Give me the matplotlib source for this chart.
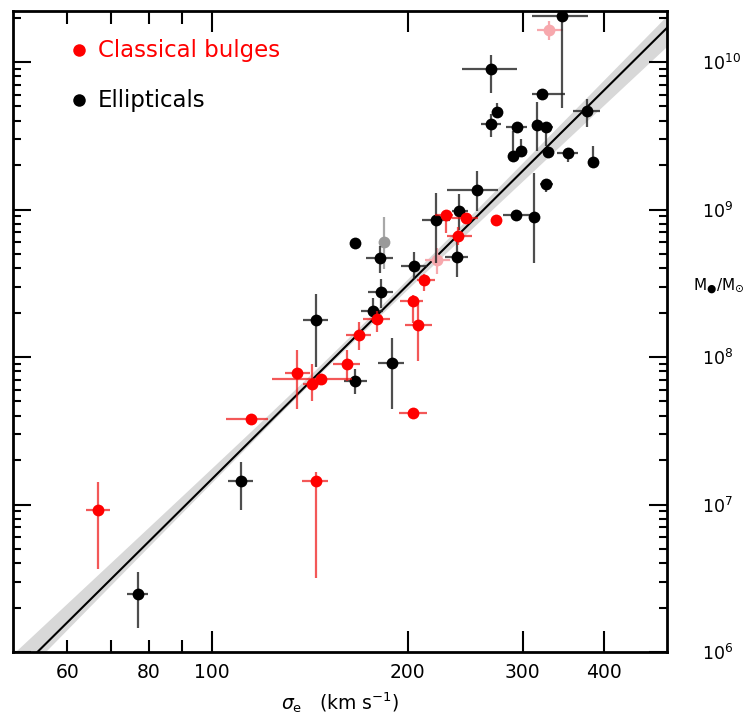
import numpy as np
import matplotlib
matplotlib.use("Agg")
import matplotlib.pyplot as plt
from matplotlib.ticker import FixedLocator, NullFormatter, LogLocator, FuncFormatter

# ---------------- data (sigma in km/s, log10 M in solar masses) ----------------
# Ellipticals
ell_sigma    = [344.8, 268.0, 321.6, 274.3, 268.0, 294.4, 315.3, 325.9, 289.7, 298.0,
                327.8, 351.8, 385.2, 376.3, 325.5, 312.3, 293.1, 255.3, 239.9, 220.8,
                237.7, 204.5, 181.2, 165.9, 181.6, 176.6, 144.3, 165.9, 188.8, 110.7, 76.9]
ell_sigma_lo = [310.0, 241.9, 309.8, 274.3, 258.6, 282.9, 312.0, 319.0, 289.7, 298.0,
                323.0, 338.4, 385.2, 358.5, 319.0, 309.0, 279.9, 229.4, 233.5, 210.0,
                227.9, 195.0, 172.5, 165.9, 173.7, 169.2, 137.8, 159.5, 180.1, 105.7, 74.0]
ell_sigma_hi = [378.1, 294.1, 348.5, 274.3, 277.7, 304.7, 322.0, 334.6, 289.7, 298.0,
                332.0, 365.3, 385.2, 394.5, 334.0, 316.0, 309.8, 275.3, 247.6, 232.1,
                247.6, 213.7, 189.5, 165.9, 189.7, 182.9, 150.9, 172.9, 197.2, 115.5, 79.7]
ell_logm     = [10.31, 9.95, 9.78, 9.66, 9.58, 9.56, 9.57, 9.56, 9.36, 9.40,
                9.39, 9.38, 9.32, 9.67, 9.17, 8.95, 8.96, 9.13, 8.99, 8.93,
                8.68, 8.62, 8.67, 8.77, 8.44, 8.31, 8.25, 7.84, 7.96, 7.16, 6.39]
ell_logm_lo  = [9.69, 9.79, 9.78, 9.66, 9.49, 9.52, 9.40, 9.43, 9.36, 9.40,
                9.37, 9.32, 9.32, 9.56, 9.12, 8.64, 8.93, 8.99, 8.86, 8.64,
                8.54, 8.53, 8.57, 8.77, 8.33, 8.23, 7.93, 7.75, 7.65, 6.96, 6.16]
ell_logm_hi  = [10.36, 10.05, 9.78, 9.72, 9.65, 9.58, 9.73, 9.56, 9.53, 9.48,
                9.41, 9.38, 9.43, 9.75, 9.20, 9.25, 8.99, 9.26, 9.105, 9.11,
                8.84, 8.71, 8.75, 8.77, 8.53, 8.40, 8.43, 7.92, 8.13, 7.29, 6.54]

# Classical bulges
bul_sigma    = [228.6, 245.6, 272.8, 238.5, 211.7, 203.4, 207.5, 179.1, 168.2, 161.0,
                135.2, 142.3, 147.0, 114.7, 66.8, 144.3, 203.8]
bul_sigma_lo = [220.1, 233.5, 268.9, 229.4, 206.5, 194.5, 198.0, 170.8, 160.6, 153.6,
                129.4, 138.0, 123.5, 105.0, 64.0, 137.6, 194.0]
bul_sigma_hi = [234.5, 256.5, 277.7, 250.6, 220.1, 211.2, 217.5, 187.6, 175.4, 168.8,
                141.5, 147.0, 163.9, 122.0, 69.7, 150.9, 213.7]
bul_logm     = [8.96, 8.94, 8.93, 8.82, 8.52, 8.38, 8.22, 8.26, 8.15, 7.95,
                7.89, 7.815, 7.85, 7.58, 6.96, 7.16, 7.62]
bul_logm_lo  = [8.84, 8.91, 8.91, 8.76, 8.45, 8.23, 7.97, 8.17, 8.05, 7.84,
                7.65, 7.70, 7.83, 7.56, 6.56, 6.50, 7.60]
bul_logm_hi  = [9.00, 8.97, 8.95, 8.88, 8.56, 8.42, 8.38, 8.31, 8.24, 8.05,
                8.05, 7.95, 7.87, 7.60, 7.15, 7.22, 7.64]

# faint (omitted) points
pink_sigma, pink_sigma_lo, pink_sigma_hi = [329.7, 221.6], [315.3, 212.4], [346.4, 232.1]
pink_logm, pink_logm_lo, pink_logm_hi = [10.22, 8.66], [10.15, 8.56], [10.28, 8.74]
grey_sigma, grey_logm, grey_logm_lo, grey_logm_hi = [183.7], [8.78], [8.60], [8.95]

# fit: log M = a + b log(sigma/200)
fit_a, fit_b = 8.49, 4.377
band_b = 4.31

x_ticks_major = [100, 200, 300, 400]
x_ticks_minor = [60, 70, 80, 90]
x_labels = {60: "60", 80: "80", 100: "100", 200: "200", 300: "300", 400: "400"}

legend_labels = ["Classical bulges", "Ellipticals"]
legend_sigma = 62.5
legend_logm = [10.08, 9.74]

# ---------------- figure ----------------
plt.rcParams['font.family'] = ['DejaVu Sans']
plt.rcParams['mathtext.default'] = 'regular'

fig = plt.figure(figsize=(7.43, 7.15), dpi=100)
ax = fig.add_axes([13/743, 63/715, 654/743, 641/715])
ax.set_xscale('log')
ax.set_yscale('log')
ax.set_xlim(49.5, 500)
ax.set_ylim(1e6, 10**10.346)

sg = np.logspace(np.log10(45), np.log10(550), 300)
xx = np.log10(sg / 200.0)
hw = np.sqrt(0.028**2 + (0.2 * (np.log10(sg) - 2.2))**2)
cen = fit_a + band_b * xx
ax.fill_between(sg, 10**(cen - hw), 10**(cen + hw), color='#d8d8d8', lw=0, zorder=1)
ax.plot(sg, 10**(fit_a + fit_b * xx), color='black', lw=1.5, zorder=2)


def draw(sig, slo, shi, lm, llo, lhi, color, ecolor, alpha_e=0.8, z=3):
    sig = np.array(sig); slo = np.array(slo); shi = np.array(shi)
    m = 10**np.array(lm); mlo = 10**np.array(llo); mhi = 10**np.array(lhi)
    ax.errorbar(sig, m, xerr=[sig - slo, shi - sig], yerr=[m - mlo, mhi - m],
                fmt='none', ecolor=ecolor, elinewidth=1.6, capsize=0, alpha=alpha_e, zorder=z)
    ax.plot(sig, m, 'o', color=color, ms=8.5, mec='none', zorder=z + 1)


draw(pink_sigma, pink_sigma_lo, pink_sigma_hi, pink_logm, pink_logm_lo, pink_logm_hi,
     '#f7a8ad', '#f7a8ad', 1.0, 3)
draw(grey_sigma, grey_sigma, grey_sigma, grey_logm, grey_logm_lo, grey_logm_hi,
     '#9a9a9a', '#a8a8a8', 1.0, 3)
draw(ell_sigma, ell_sigma_lo, ell_sigma_hi, ell_logm, ell_logm_lo, ell_logm_hi,
     'black', '#222222', 0.8, 5)
draw(bul_sigma, bul_sigma_lo, bul_sigma_hi, bul_logm, bul_logm_lo, bul_logm_hi,
     '#ff0000', '#ee1111', 0.7, 7)

# ticks
ax.xaxis.set_major_locator(FixedLocator(x_ticks_major))
ax.xaxis.set_minor_locator(FixedLocator(x_ticks_minor))
ax.xaxis.set_major_formatter(FuncFormatter(lambda v, p: x_labels.get(int(round(v)), "")))
ax.xaxis.set_minor_formatter(FuncFormatter(lambda v, p: x_labels.get(int(round(v)), "")))
ax.yaxis.set_major_locator(LogLocator(base=10, numticks=10))
ax.yaxis.set_minor_locator(LogLocator(base=10, subs=np.arange(2, 10), numticks=20))
ax.yaxis.set_minor_formatter(NullFormatter())
ax.yaxis.set_major_formatter(FuncFormatter(lambda v, p: r'$10^{%d}$' % int(round(np.log10(v)))))

ax.tick_params(axis='both', which='both', direction='in', top=True, right=True,
               left=True, bottom=True, width=1.5, colors='black')
ax.tick_params(axis='x', which='major', length=15, labelsize=13.5, pad=8)
ax.tick_params(axis='x', which='minor', length=9, labelsize=13.5, pad=8)
ax.tick_params(axis='y', which='major', length=13, labelsize=12.5,
               labelleft=False, labelright=True, pad=25)
ax.tick_params(axis='y', which='minor', length=6)
for s in ax.spines.values():
    s.set_linewidth(2)

ax.set_xlabel(r'$\mathit{\sigma}_{e}$   (km s$^{-1}$)', fontsize=13.5, labelpad=6)
fig.text(693/743, 1 - 287/715, r'M$_{●}$/M$_{\odot}$', fontsize=11, ha='left', va='center')

# legend
for lab, lm, col in zip(legend_labels, legend_logm, ['#ff0000', 'black']):
    ax.plot([legend_sigma], [10**lm], 'o', color=col, ms=9, mec='none')
    ax.text(0.13, (lm - 6) / 4.346, lab, color=col, fontsize=16.5,
            transform=ax.transAxes, va='center')

fig.savefig('out.png', dpi=100)
